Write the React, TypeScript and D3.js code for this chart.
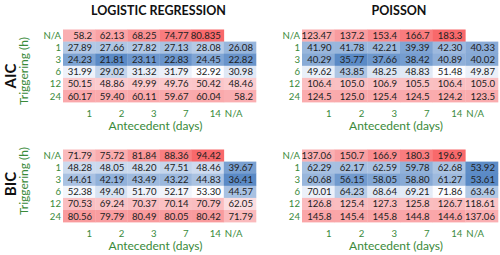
import React from 'react';
import * as d3 from 'd3';

// axis labels
const colLabels = ['1', '2', '3', '7', '14', 'N/A'];
const rowLabels = ['N/A', '1', '3', '6', '12', '24'];

// values as printed in the table (rows = triggering, cols = antecedent)
const logitAIC = [
  ['58.2', '62.13', '68.25', '74.77', '80.835', ''],
  ['27.89', '27.66', '27.82', '27.13', '28.08', '26.08'],
  ['24.23', '21.81', '23.11', '22.83', '24.45', '22.82'],
  ['31.99', '29.02', '31.32', '31.79', '32.92', '30.98'],
  ['50.15', '48.86', '49.99', '49.76', '50.42', '48.46'],
  ['60.17', '59.40', '60.11', '59.67', '60.04', '58.2'],
];
const poissonAIC = [
  ['123.47', '137.2', '153.4', '166.7', '183.3', ''],
  ['41.90', '41.78', '42.21', '39.39', '42.30', '40.33'],
  ['40.29', '35.77', '37.66', '38.42', '40.89', '40.02'],
  ['49.62', '43.85', '48.25', '48.83', '51.48', '49.87'],
  ['106.4', '105.0', '106.9', '105.5', '106.4', '105.0'],
  ['124.5', '125.0', '125.4', '124.5', '124.2', '123.5'],
];
const logitBIC = [
  ['71.79', '75.72', '81.84', '88.36', '94.42', ''],
  ['48.28', '48.05', '48.20', '47.51', '48.46', '39.67'],
  ['44.61', '42.19', '43.49', '43.22', '44.83', '36.41'],
  ['52.38', '49.40', '51.70', '52.17', '53.30', '44.57'],
  ['70.53', '69.24', '70.37', '70.14', '70.79', '62.05'],
  ['80.56', '79.79', '80.49', '80.05', '80.42', '71.79'],
];
const poissonBIC = [
  ['137.06', '150.7', '166.9', '180.3', '196.9', ''],
  ['62.29', '62.17', '62.59', '59.78', '62.68', '53.92'],
  ['60.68', '56.15', '58.05', '58.80', '61.27', '53.61'],
  ['70.01', '64.23', '68.64', '69.21', '71.86', '63.46'],
  ['126.8', '125.4', '127.3', '125.8', '126.7', '118.61'],
  ['145.8', '145.4', '145.8', '144.8', '144.6', '137.06'],
];

const GREEN = '#3a8a3a';
const FONT = 'Lato, "Open Sans", sans-serif';
const FS = 9.6;

const Heatmap = ({ data, x0, x1, top, title, showTitle }) => {
  const x = d3.scaleBand().domain(colLabels).range([x0, x1]);
  const y = d3.scaleBand().domain(rowLabels).range([top, top + 72.6]);

  // excel style 3-colour scale: min blue, median white, max red
  const vals = data.flat().filter(v => v !== '').map(v => +v);
  const color = d3.scaleLinear()
    .domain([d3.min(vals), d3.median(vals), d3.max(vals)])
    .range(['#5a8ac6', '#fcfcff', '#f8696b'])
    .interpolate(d3.interpolateRgb);

  const cx = (x0 + x1) / 2;
  return (
    <g>
      {showTitle && (
        <text x={cx - 1} y={15} textAnchor="middle" fontWeight="bold"
          fontSize={12.5} fill="#111">{title}</text>
      )}
      {data.map((row, i) => row.map((v, j) => v === '' ? null : (
        <g key={`${i}-${j}`}>
          <rect x={x(colLabels[j])} y={y(rowLabels[i])} width={x.bandwidth() + 0.3}
            height={y.bandwidth() + 0.3} fill={color(+v)} />
          <text x={x(colLabels[j]) + x.bandwidth() - 3} y={y(rowLabels[i]) + y.bandwidth() / 2}
            dy="0.36em" textAnchor="end" fontSize={FS} fill="#222">{v}</text>
        </g>
      )))}
      {rowLabels.map(r => (
        <text key={r} x={x0 - 2} y={y(r) + y.bandwidth() / 2} dy="0.36em"
          textAnchor="end" fontSize={FS} fill={GREEN}>{r}</text>
      ))}
      {colLabels.map(c => (
        <text key={c} x={c === 'N/A' ? x(c) + 1 : x(c) + x.bandwidth() - 3}
          y={top + 84} dy="0.36em" textAnchor={c === 'N/A' ? 'start' : 'end'}
          fontSize={FS} fill={GREEN}>{c}</text>
      ))}
      <text x={cx - 4} y={top + 96} dy="0.36em" textAnchor="middle"
        fontSize={12} fill={GREEN}>Antecedent (days)</text>
    </g>
  );
};

export default function App() {
  return (
    <svg width={500} height={255} style={{ position: 'absolute', left: 0, top: 0, background: '#fff' }}
      fontFamily={FONT}>
      <Heatmap data={logitAIC} x0={63} x1={256} top={29.5} title="LOGISTIC REGRESSION" showTitle />
      <Heatmap data={poissonAIC} x0={302} x1={498} top={29.5} title="POISSON" showTitle />
      <Heatmap data={logitBIC} x0={63} x1={256} top={149.5} title="" showTitle={false} />
      <Heatmap data={poissonBIC} x0={302} x1={498} top={149.5} title="" showTitle={false} />

      <text transform="translate(16,76) rotate(-90)" textAnchor="middle" fontWeight="bold"
        fontSize={15} fill="#111">AIC</text>
      <text transform="translate(28,71) rotate(-90)" textAnchor="middle"
        fontSize={12} fill={GREEN}>Triggering (h)</text>
      <text transform="translate(16,184) rotate(-90)" textAnchor="middle" fontWeight="bold"
        fontSize={15} fill="#111">BIC</text>
      <text transform="translate(28,181) rotate(-90)" textAnchor="middle"
        fontSize={12} fill={GREEN}>Triggering (h)</text>
    </svg>
  );
}
